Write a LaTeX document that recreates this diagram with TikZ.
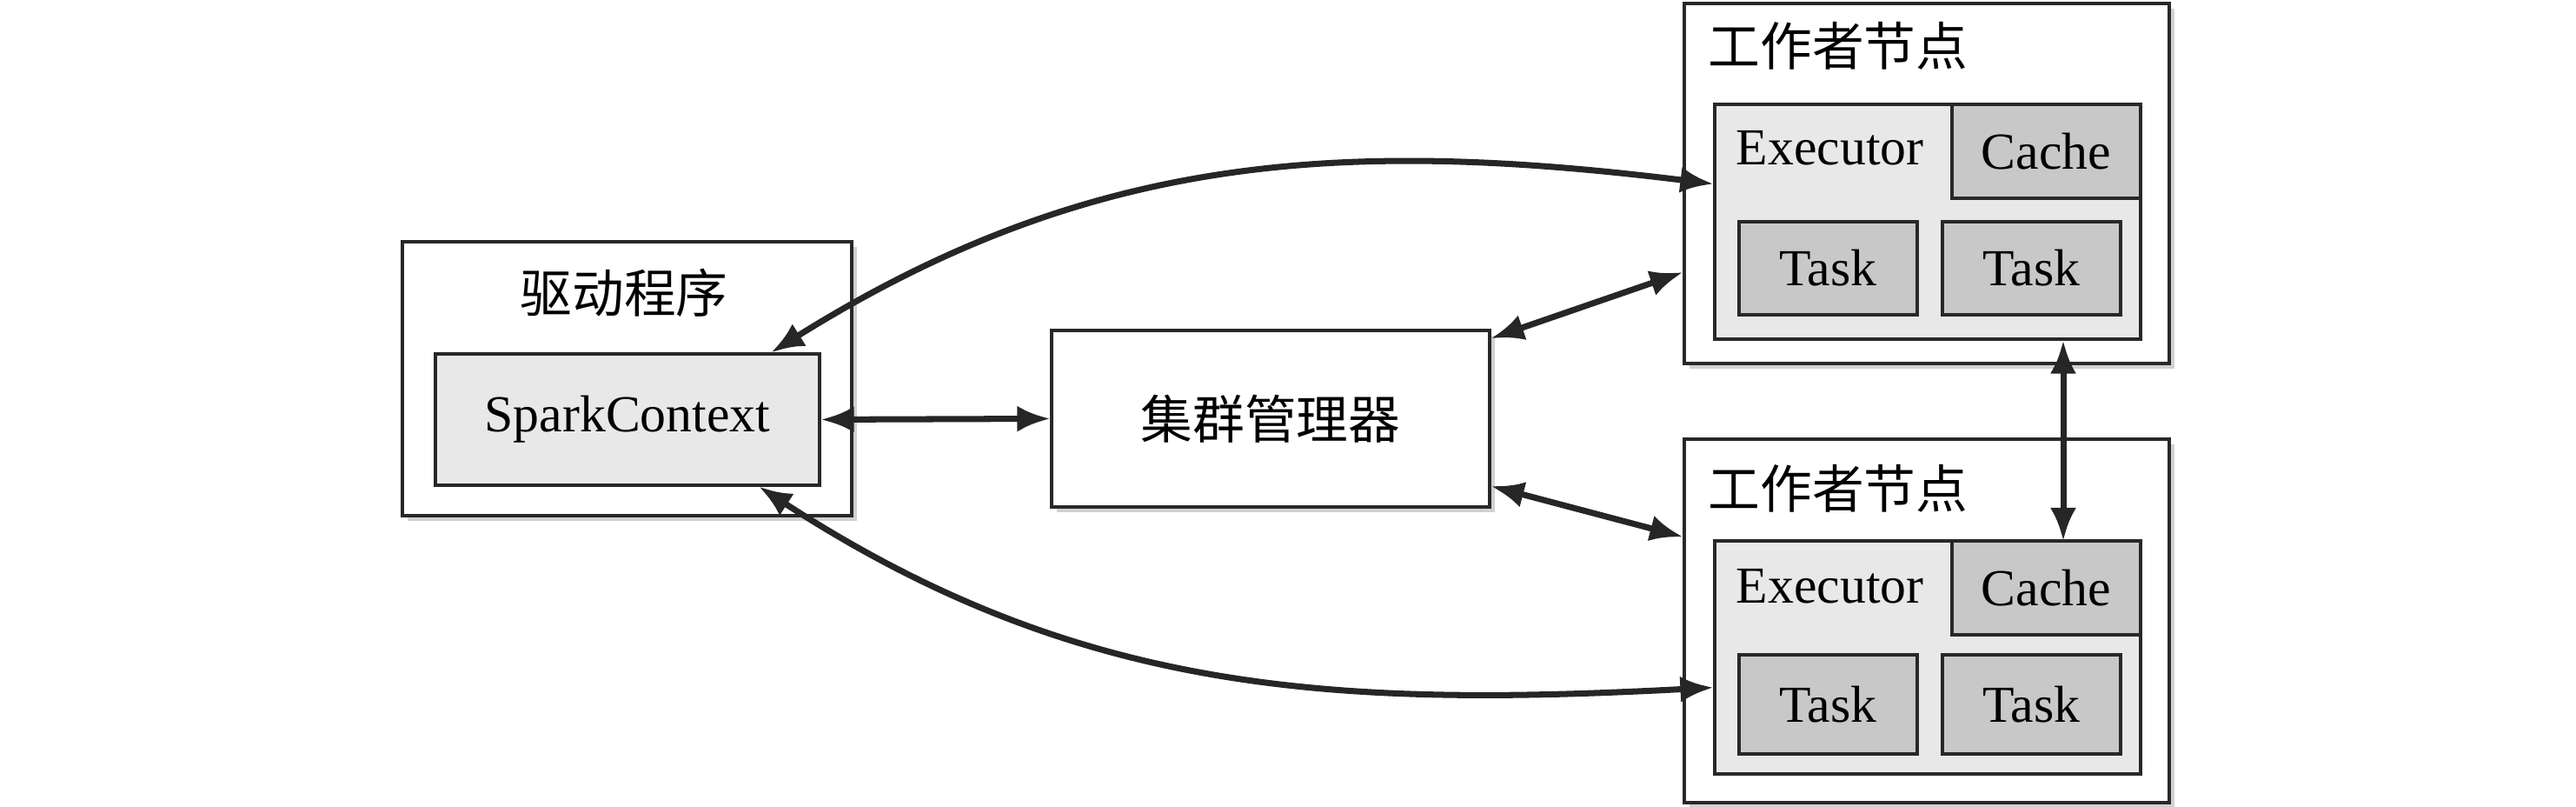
\documentclass[tikz,border=0pt]{standalone}
\usepackage{fontspec}
\setmainfont{Liberation Serif}
\newfontfamily\cjk{Noto Sans CJK SC}
\usepackage{tikz}
\usetikzlibrary{positioning}
\usetikzlibrary{arrows.meta}
\usetikzlibrary{shadows}
\definecolor{box-light}{RGB}{232,232,232}
\definecolor{box-dark}{RGB}{200,200,200}
\definecolor{box-line}{RGB}{40,40,40}

\begin{document}
\begin{tikzpicture}[>={Latex[length=0.38cm,width=0.3cm]}, font=\fontsize{17}{20}\selectfont,
  outer/.style={draw=box-line, line width=0.9pt, fill=white, inner sep=0pt,
    drop shadow={shadow xshift=0.06cm, shadow yshift=-0.06cm, fill=black!18, opacity=1}},
  light/.style={draw=box-line, line width=0.9pt, fill=box-light, inner sep=0pt},
  dark/.style={draw=box-line, line width=0.9pt, fill=box-dark, inner sep=0pt},
  link/.style={<->, line width=2pt, draw=black!85}]

\useasboundingbox (0,0) rectangle (29.64,9.28);

% driver
\node [outer, minimum width=5.17cm, minimum height=3.15cm] (driver) at (7.215,4.925) {};
\node [light, minimum width=4.42cm, minimum height=1.51cm] (sc) at (7.22,4.455) {SparkContext};
\node (drivertitle) at (7.18,5.91) {\cjk 驱动程序};

% cluster manager
\node [outer, minimum width=5.04cm, minimum height=2.03cm] (cm) at (14.62,4.465) {\cjk 集群管理器};

% worker 1
\node [outer, minimum width=5.58cm, minimum height=4.14cm] (w1) at (22.17,7.17) {};
\node [anchor=west, inner sep=0pt] (w1title) at (19.65,8.75) {\cjk 工作者节点};
\node [light, minimum width=4.90cm, minimum height=2.70cm] (ex1) at (22.18,6.73) {};
\node [dark, minimum width=2.17cm, minimum height=1.08cm] (cache1) at (23.545,7.54) {Cache};
\node [anchor=base west, inner sep=0pt] (exlabel1) at (19.97,7.38) {Executor};
\node [dark, minimum width=2.05cm, minimum height=1.07cm] (task1a) at (21.035,6.195) {Task};
\node [dark, minimum width=2.05cm, minimum height=1.07cm] (task1b) at (23.375,6.195) {Task};

% worker 2
\node [outer, minimum width=5.58cm, minimum height=4.18cm] (w2) at (22.17,2.14) {};
\node [anchor=west, inner sep=0pt] (w2title) at (19.65,3.66) {\cjk 工作者节点};
\node [light, minimum width=4.90cm, minimum height=2.68cm] (ex2) at (22.18,1.72) {};
\node [dark, minimum width=2.17cm, minimum height=1.08cm] (cache2) at (23.545,2.52) {Cache};
\node [anchor=base west, inner sep=0pt] (exlabel2) at (19.97,2.34) {Executor};
\node [dark, minimum width=2.05cm, minimum height=1.14cm] (task2a) at (21.035,1.18) {Task};
\node [dark, minimum width=2.05cm, minimum height=1.14cm] (task2b) at (23.375,1.18) {Task};

% links
\draw [link] (sc.east) -- (cm.west);
\draw [link] (cm.20) -- (w1.200);
\draw [link] (cm.-17) -- (w2.161);
\draw [link] (sc.25) to[out=32,in=173] (ex1.170);
\draw [link] (sc.-27) to[out=-33,in=183] (ex2.188);

\coordinate (v2) at (23.74,3.06);
\draw [link] (v2) -- (v2 |- ex1.south);

\end{tikzpicture}
\end{document}
